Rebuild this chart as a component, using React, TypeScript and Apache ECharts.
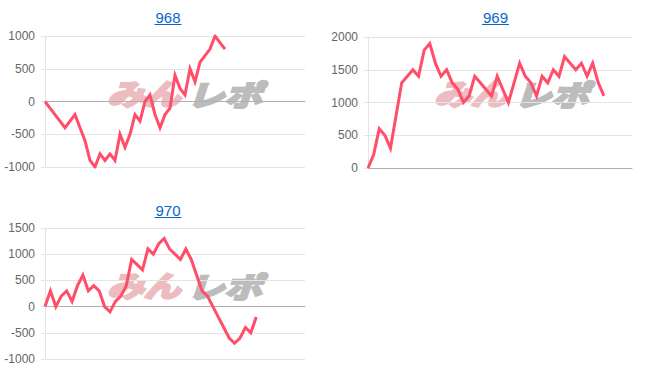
import React, { useEffect, useRef } from "react";
import * as echarts from "echarts";

const titles = ["968", "969", "970"];

const cats968 = ["1","2","3","4","5","6","7","8","9","10","11","12","13","14","15","16","17","18","19","20","21","22","23","24","25","26","27","28","29","30","31","32","33","34","35","36","37","38","39","40","41","42","43","44","45","46","47","48","49","50","51","52","53"];
const cats969 = ["1","2","3","4","5","6","7","8","9","10","11","12","13","14","15","16","17","18","19","20","21","22","23","24","25","26","27","28","29","30","31","32","33","34","35","36","37","38","39","40","41","42","43","44","45","46","47","48"];
const cats970 = ["1","2","3","4","5","6","7","8","9","10","11","12","13","14","15","16","17","18","19","20","21","22","23","24","25","26","27","28","29","30","31","32","33","34","35","36","37","38","39","40","41","42","43","44","45","46","47","48","49"];

const vals968 = [0, -100, -200, -300, -400, -300, -200, -400, -600, -900, -1000, -800, -900, -800, -900, -500, -700, -500, -200, -300, 0, 100, -200, -400, -200, -100, 400, 200, 100, 500, 300, 600, 700, 800, 1000, 900, 800];
const vals969 = [0, 200, 600, 500, 300, 800, 1300, 1400, 1500, 1400, 1800, 1900, 1600, 1400, 1500, 1300, 1200, 1000, 1100, 1400, 1300, 1200, 1100, 1400, 1200, 1000, 1300, 1600, 1400, 1300, 1100, 1400, 1300, 1500, 1400, 1700, 1600, 1500, 1600, 1400, 1600, 1300, 1100];
const vals970 = [0, 300, 0, 200, 300, 100, 400, 600, 300, 400, 300, 0, -100, 100, 200, 400, 900, 800, 700, 1100, 1000, 1200, 1300, 1100, 1000, 900, 1100, 900, 600, 300, 200, 0, -200, -400, -600, -700, -600, -400, -500, -200];

const yMin = [-1000, 0, -1000];
const yMax = [1000, 2000, 1500];

const LINE = "#ff4d6a";
const FONT = "'Liberation Sans', Arial, Helvetica, sans-serif";
const WM_PINK = "#ecbcc1";
const WM_GRAY = "#bcbcbc";

export default function App() {
  const ref = useRef<HTMLDivElement>(null);
  useEffect(() => {
    if (!ref.current) return;
    const chart = echarts.init(ref.current, undefined, { renderer: "svg" });
    const grids = [
      { left: 45, top: 36, width: 260, height: 131 },
      { left: 368, top: 37, width: 264, height: 131 },
      { left: 45, top: 228, width: 260, height: 131 },
    ];
    const cats = [cats968, cats969, cats970];
    const vals = [vals968, vals969, vals970];
    const titlePos = [
      { x: 168, y: 17 },
      { x: 495.5, y: 17 },
      { x: 168, y: 210 },
    ];
    const wmPos = [
      { x: 105, y: 93 },
      { x: 432, y: 93 },
      { x: 105, y: 285 },
    ];
    const graphics: any[] = [];
    titles.forEach((t, i) => {
      const p = titlePos[i];
      graphics.push({
        type: "text",
        x: p.x,
        y: p.y,
        z: 10,
        style: {
          text: t,
          fill: "#0a66c8",
          font: `15px ${FONT}`,
          align: "center",
          verticalAlign: "middle",
        },
      });
      graphics.push({
        type: "line",
        z: 10,
        shape: { x1: p.x - 13.5, y1: p.y + 7.5, x2: p.x + 13.5, y2: p.y + 7.5 },
        style: { stroke: "#0a66c8", lineWidth: 1 },
      });
    });
    wmPos.forEach((p) => {
      graphics.push({
        type: "text",
        x: p.x + 2,
        y: p.y,
        z: -1,
        scaleX: 1.08,
        scaleY: 0.85,
        style: {
          text: "みん",
          fill: WM_PINK,
          stroke: WM_PINK,
          lineWidth: 3,
          font: `italic bold 34px 'Noto Sans CJK JP', sans-serif`,
          align: "left",
          verticalAlign: "middle",
        },
      });
      graphics.push({
        type: "text",
        x: p.x + 82,
        y: p.y,
        z: -1,
        scaleX: 1.1,
        scaleY: 0.85,
        style: {
          text: "レポ",
          fill: WM_GRAY,
          stroke: WM_GRAY,
          lineWidth: 3,
          font: `italic bold 34px 'Noto Sans CJK JP', sans-serif`,
          align: "left",
          verticalAlign: "middle",
        },
      });
    });

    const option: any = {
      animation: false,
      backgroundColor: "#ffffff",
      grid: grids,
      xAxis: cats.map((c, i) => ({
        type: "category",
        gridIndex: i,
        data: c,
        boundaryGap: false,
        axisLine: { show: true, onZero: true, lineStyle: { color: "#b0b0b0", width: 1 } },
        axisTick: { show: false },
        axisLabel: { show: false },
        splitLine: { show: false },
      })),
      yAxis: cats.map((_, i) => ({
        type: "value",
        gridIndex: i,
        min: yMin[i],
        max: yMax[i],
        interval: 500,
        axisLine: { show: true, lineStyle: { color: "#e4e4e4" } },
        axisTick: { show: true, length: 4, lineStyle: { color: "#e4e4e4" } },
        axisLabel: {
          color: "#666666",
          fontSize: 12,
          fontFamily: FONT,
          margin: 10,
          formatter: (v: number) => String(v),
        },
        splitLine: { show: true, lineStyle: { color: "#e4e4e4", width: 1 } },
      })),
      series: vals.map((v, i) => ({
        type: "line",
        xAxisIndex: i,
        yAxisIndex: i,
        data: v,
        showSymbol: false,
        symbol: "none",
        z: 5,
        lineStyle: { color: LINE, width: 3, join: "miter" },
        itemStyle: { color: LINE },
      })),
      graphic: graphics,
    };
    chart.setOption(option);
    return () => chart.dispose();
  }, []);
  return (
    <div
      ref={ref}
      style={{ position: "fixed", left: 0, top: 0, width: 652, height: 382, background: "#fff" }}
    />
  );
}
